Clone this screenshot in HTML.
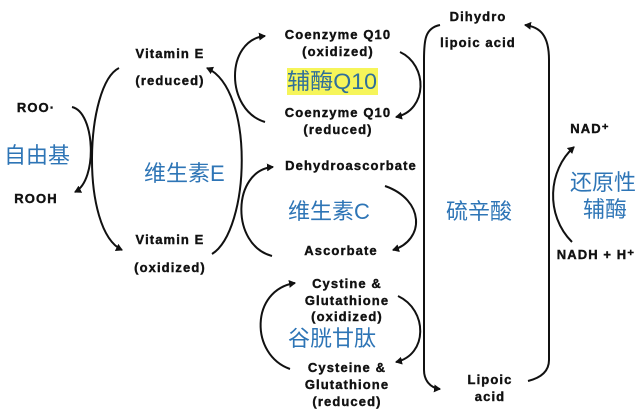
<!DOCTYPE html>
<html><head><meta charset="utf-8"><style>
html,body{margin:0;padding:0;background:#fff;}
svg{display:block;}
.b{font-family:"Liberation Sans",sans-serif;font-weight:bold;font-size:13px;letter-spacing:1.1px;fill:#111;stroke:#111;stroke-width:0.4px;text-anchor:middle;}
.c{font-family:"Liberation Sans","Noto Sans CJK SC",sans-serif;font-size:21px;fill:#2e75b6;}
path{fill:none;stroke:#111;stroke-width:2;}
</style></head><body>
<svg width="642" height="418" viewBox="0 0 642 418" xmlns="http://www.w3.org/2000/svg">
<defs><marker id="a" markerWidth="8" markerHeight="8" refX="6" refY="4" orient="auto" markerUnits="userSpaceOnUse"><path d="M0,0 L7,4 L0,8 z" style="fill:#111;stroke:none"/></marker></defs>
<rect x="287" y="68" width="91" height="27" fill="#f6f55a"/>
<text class="b" x="338" y="39">Coenzyme Q10</text>
<text class="b" x="338" y="56">(oxidized)</text>
<text class="c" x="287" y="89" style="fill:#2f6f9a;font-size:22px" textLength="90" lengthAdjust="spacingAndGlyphs">辅酶Q10</text>
<text class="b" x="338" y="117">Coenzyme Q10</text>
<text class="b" x="338" y="134">(reduced)</text>
<text class="b" x="478" y="21">Dihydro</text>
<text class="b" x="478" y="47">lipoic acid</text>
<text class="b" x="170" y="58">Vitamin E</text>
<text class="b" x="170" y="85">(reduced)</text>
<text class="b" x="36" y="112">ROO·</text>
<text class="c" x="4" y="163" style="font-size:22px">自由基</text>
<text class="b" x="36" y="203">ROOH</text>
<text class="c" x="144" y="181" style="font-size:22px">维生素E</text>
<text class="b" x="351" y="170">Dehydroascorbate</text>
<text class="c" x="288" y="219" style="font-size:22px">维生素C</text>
<text class="c" x="446" y="219" style="font-size:22px">硫辛酸</text>
<text class="b" x="341" y="255">Ascorbate</text>
<text class="b" x="170" y="244">Vitamin E</text>
<text class="b" x="170" y="272">(oxidized)</text>
<text class="b" x="347" y="288">Cystine &amp;</text>
<text class="b" x="347" y="305">Glutathione</text>
<text class="b" x="347" y="321">(oxidized)</text>
<text class="c" x="288" y="346" style="font-size:22px">谷胱甘肽</text>
<text class="b" x="347" y="372">Cysteine &amp;</text>
<text class="b" x="347" y="389">Glutathione</text>
<text class="b" x="347" y="406">(reduced)</text>
<text class="b" x="490" y="384">Lipoic</text>
<text class="b" x="490" y="401">acid</text>
<text class="b" x="590" y="133">NAD⁺</text>
<text class="c" x="570" y="190" style="font-size:22px">还原性</text>
<text class="c" x="583" y="217" style="font-size:22px">辅酶</text>
<text class="b" x="596" y="259">NADH + H⁺</text>
<path d="M72,107 C95,112 98,180 75,192" marker-end="url(#a)"/>
<path d="M119,68 C85,85 80,230 122,250" marker-end="url(#a)"/>
<path d="M212,254 C250,230 255,90 207,68" marker-end="url(#a)"/>
<path d="M265,122 C225,110 225,40 265,36" marker-end="url(#a)"/>
<path d="M400,52 C428,65 428,110 396,117" marker-end="url(#a)"/>
<path d="M272,256 C230,245 232,170 273,167" marker-end="url(#a)"/>
<path d="M385,186 C425,200 425,240 393,250" marker-end="url(#a)"/>
<path d="M290,369 C250,355 250,290 295,283" marker-end="url(#a)"/>
<path d="M398,296 C428,310 428,355 396,362" marker-end="url(#a)"/>
<path d="M440,25 C425,28 424,40 424,60 L424,370 C424,380 430,388 440,389" marker-end="url(#a)"/>
<path d="M528,381 C540,378 549,372 549,360 L549,60 C549,35 540,27 525,25" marker-end="url(#a)"/>
<path d="M572,242 C545,215 548,170 574,147" marker-end="url(#a)"/>
</svg>
</body></html>
